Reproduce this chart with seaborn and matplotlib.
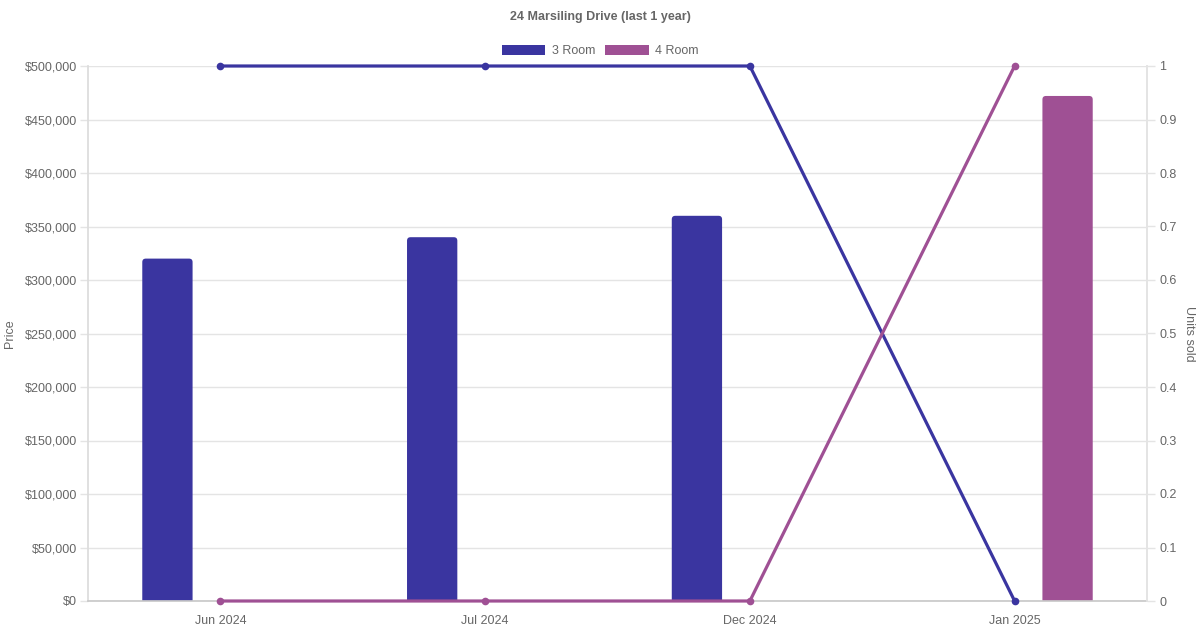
import matplotlib
matplotlib.use("Agg")
import matplotlib.pyplot as plt
import seaborn as sns
import pandas as pd
import numpy as np
from matplotlib.patches import Patch, FancyBboxPatch
from matplotlib.ticker import FuncFormatter, MultipleLocator

# ---- data ----
months = ["Jun 2024", "Jul 2024", "Dec 2024", "Jan 2025"]
room_types = ["3 Room", "4 Room"]
price_3room = [320000, 340000, 360000, np.nan]
price_4room = [np.nan, np.nan, np.nan, 472000]
units_3room = [1, 1, 1, 0]
units_4room = [0, 0, 0, 1]
colors = {"3 Room": "#3a35a0", "4 Room": "#9f5094"}

df_price = pd.DataFrame({
    "Month": months * 2,
    "Type": ["3 Room"] * 4 + ["4 Room"] * 4,
    "Price": price_3room + price_4room,
}).dropna()
df_units = pd.DataFrame({
    "pos": list(range(len(months))) * 2,
    "Type": ["3 Room"] * 4 + ["4 Room"] * 4,
    "Units": units_3room + units_4room,
})

sns.set_theme(style="white")
plt.rcParams['font.family'] = ['Liberation Sans', 'DejaVu Sans']

W, H = 1200, 630
fig = plt.figure(figsize=(12, 6.3), dpi=100)
L, R, T, B = 88, 1147, 66, 601
ax = fig.add_axes([L / W, 1 - B / H, (R - L) / W, (B - T) / H])

grey_txt = "#666666"
grid_c = "#e4e4e4"
fs = 9

sns.barplot(data=df_price, x="Month", y="Price", hue="Type", order=months,
            hue_order=room_types, palette=colors, dodge=True, width=0.8,
            gap=0.525, saturation=1, legend=False, ax=ax, zorder=2)
ax.set_xlim(-0.5, len(months) - 0.5)
ax.set_ylim(0, 500000)

# rounded top corners for bars
px_x = (len(months)) / (R - L)          # data units per pixel (x)
px_y = 500000 / (B - T)                 # data units per pixel (y)
rad = 3.5
for p in list(ax.patches):
    h = p.get_height()
    if not np.isfinite(h) or h == 0:
        continue
    x0, w = p.get_x(), p.get_width()
    fb = FancyBboxPatch((x0, -rad * 2 * px_y), w, h + rad * 2 * px_y,
                        boxstyle=f"round,pad=0,rounding_size={rad * px_x}",
                        mutation_aspect=px_y / px_x,
                        facecolor=p.get_facecolor(), edgecolor="none", zorder=2)
    ax.add_patch(fb)
    p.remove()

ax.yaxis.set_major_locator(MultipleLocator(50000))
ax.yaxis.set_major_formatter(FuncFormatter(lambda v, p: f"${v:,.0f}"))
ax.yaxis.grid(True, color=grid_c, lw=1, zorder=0)
ax.set_axisbelow(True)
ax.tick_params(axis='y', length=5.8, width=1, color=grid_c, labelcolor=grey_txt,
               labelsize=fs, pad=2)
ax.tick_params(axis='x', length=0, labelcolor=grey_txt, labelsize=fs, pad=10)
ax.set_xlabel("")
ax.set_ylabel("Price", color=grey_txt, fontsize=fs, va="center")
ax.yaxis.set_label_coords((10 - L) / (R - L), 0.5)
ax.spines["top"].set_visible(False)
ax.spines["left"].set_color("#dcdcdc")
ax.spines["bottom"].set_color("#c9c9c9")
ax.spines["right"].set_color(grid_c)

ax2 = ax.twinx()
sns.lineplot(data=df_units, x="pos", y="Units", hue="Type", hue_order=room_types,
             palette=colors, marker="o", markersize=5.5, markeredgewidth=0,
             linewidth=2.3, legend=False, ax=ax2, clip_on=False, zorder=5)
ax2.set_xlim(-0.5, len(months) - 0.5)
ax2.set_ylim(0, 1)
ax2.yaxis.set_major_locator(MultipleLocator(0.1))
ax2.yaxis.set_major_formatter(FuncFormatter(
    lambda v, p: f"{int(round(v))}" if abs(v - round(v)) < 1e-9 else f"{v:.1f}"))
ax2.tick_params(axis='y', length=5.8, width=1, color=grid_c, labelcolor=grey_txt,
                labelsize=fs, pad=3)
ax2.set_ylabel("Units sold", color=grey_txt, fontsize=fs, rotation=270, va="center")
ax2.yaxis.set_label_coords((1189 - L) / (R - L), 0.5)
for s in ["top", "left", "bottom"]:
    ax2.spines[s].set_visible(False)
ax2.spines["right"].set_color(grid_c)

fig.text(0.5, 1 - 17 / H, "24 Marsiling Drive (last 1 year)", ha="center", va="center",
         fontsize=9, fontweight="bold", color=grey_txt)
handles = [Patch(facecolor=colors[t], edgecolor="none", label=t) for t in room_types]
fig.legend(handles=handles, loc="center", bbox_to_anchor=(0.5, 1 - 51 / H), ncol=2,
           frameon=False, handlelength=3.5, handleheight=0.95, columnspacing=0.8,
           handletextpad=0.5, fontsize=fs, labelcolor=grey_txt)

fig.savefig("out.png", dpi=100)
